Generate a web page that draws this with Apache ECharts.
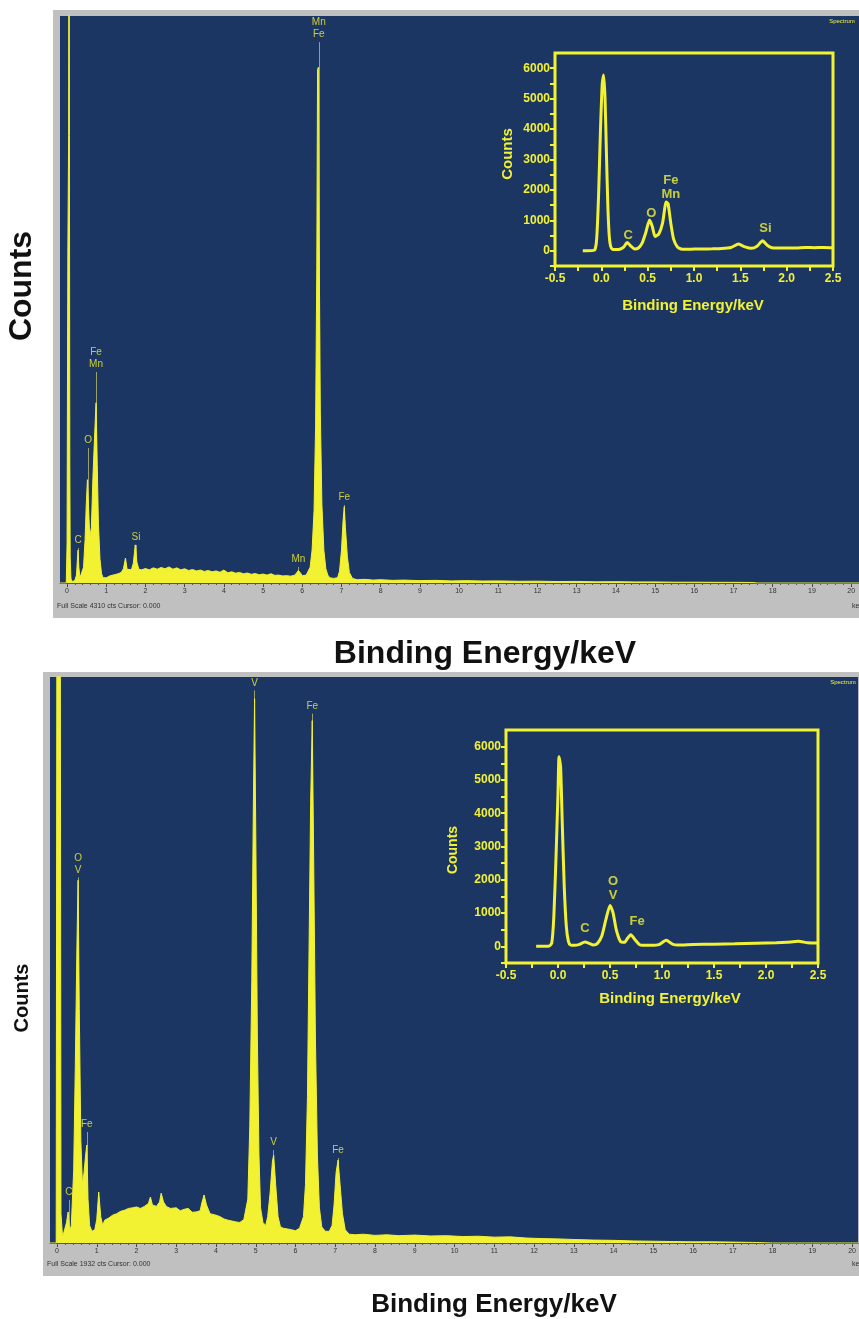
<!DOCTYPE html>
<html><head><meta charset="utf-8">
<script src="https://cdn.jsdelivr.net/npm/echarts@6/dist/echarts.min.js"></script>
<style>html,body{margin:0;padding:0;background:#fff}#c{width:859px;height:1319px}</style>
</head><body><div id="c"></div><script>
// ---------- DATA ----------
// Top main spectrum (keV, counts; full scale 4310 cts)
const TOP_E = [-0.18,-0.02,0.00,0.02,0.04,0.05,0.06,0.07,0.08,0.10,0.14,0.20,0.24,0.26,0.28,0.30,0.33,0.38,0.42,0.46,0.49,0.52,0.55,0.58,0.62,0.66,0.70,0.74,0.77,0.80,0.84,0.88,0.92,1.00,1.10,1.20,1.30,1.38,1.44,1.49,1.53,1.58,1.64,1.69,1.74,1.78,1.83,1.90,2.00,2.10,2.20,2.30,2.40,2.50,2.60,2.70,2.80,2.90,3.00,3.10,3.20,3.30,3.40,3.50,3.60,3.70,3.80,3.90,4.00,4.10,4.20,4.30,4.40,4.50,4.60,4.70,4.80,4.90,5.00,5.10,5.20,5.30,5.40,5.50,5.60,5.70,5.80,5.85,5.90,5.95,6.00,6.05,6.10,6.15,6.20,6.25,6.30,6.34,6.37,6.39,6.41,6.43,6.46,6.50,6.55,6.60,6.65,6.70,6.80,6.90,6.95,7.00,7.04,7.07,7.10,7.15,7.20,7.28,7.40,7.60,7.80,8.00,8.30,8.60,9.00,9.40,9.80,10.2,10.6,11.0,11.5,12.0,12.5,13.0,13.5,14.0,14.5,15.0,15.5,16.0,16.5,17.0,17.5,17.6,20.2];
const TOP_C = [0,0,300,2500,3400,6000,3400,900,200,30,10,20,60,160,250,120,40,30,120,330,600,785,560,350,420,800,1100,1370,900,450,180,70,40,40,55,62,70,80,110,190,105,90,100,150,290,160,105,100,110,100,115,105,118,108,122,105,115,100,108,95,102,92,98,88,95,85,92,82,98,78,85,75,80,70,76,66,72,62,68,60,70,58,60,54,56,52,58,75,95,78,56,55,60,72,120,250,550,1200,2400,3900,3920,2600,1300,600,250,110,60,40,35,40,90,250,470,580,420,200,80,35,25,28,22,25,20,22,18,20,16,18,15,16,13,14,11,12,9,10,8,8,6,6,5,5,4,0,0];
// Top main peak labels (keV, marker-top counts, text)
const TOP_LBL_E = [0.28, 0.54, 0.74, 1.76, 5.9, 6.42, 7.07];
const TOP_LBL_C = [266, 1026, 1604, 289, 122, 4112, 593];
const TOP_LBL_T = ['C', 'O', 'Fe\nMn', 'Si', 'Mn', 'Mn\nFe', 'Fe'];

// Top inset spectrum
const TOP_IN_E = [-0.20,-0.15,-0.10,-0.07,-0.05,-0.03,-0.01,0.01,0.025,0.04,0.055,0.07,0.085,0.10,0.12,0.15,0.20,0.24,0.28,0.32,0.36,0.40,0.44,0.48,0.52,0.55,0.58,0.62,0.66,0.70,0.72,0.75,0.78,0.82,0.86,0.90,1.0,1.1,1.2,1.3,1.4,1.48,1.55,1.62,1.68,1.74,1.79,1.84,1.9,2.0,2.1,2.2,2.3,2.4,2.5];
const TOP_IN_C = [0,0,5,30,400,1800,3900,5500,5780,5000,3200,1500,500,150,50,40,50,120,270,150,60,90,250,600,1010,800,470,550,900,1600,1550,900,380,130,60,50,55,60,65,75,110,220,130,80,150,330,180,100,90,95,90,110,100,110,100];
const TOP_IN_LBL_E = [0.29, 0.54, 0.75, 1.77];
const TOP_IN_LBL_C = [495, 1220, 2080, 725];
const TOP_IN_LBL_T = ['C', 'O', 'Fe\nMn', 'Si'];

// Bottom main spectrum (full scale 1932 cts)
const BOT_E = [-0.176,-0.02,0.00,0.02,0.05,0.08,0.10,0.14,0.18,0.24,0.28,0.32,0.36,0.42,0.46,0.50,0.53,0.56,0.60,0.64,0.68,0.72,0.75,0.78,0.82,0.88,0.95,1.00,1.05,1.10,1.15,1.20,1.30,1.40,1.50,1.60,1.70,1.80,1.90,2.00,2.10,2.20,2.30,2.35,2.40,2.50,2.58,2.62,2.68,2.75,2.85,3.00,3.10,3.20,3.30,3.40,3.50,3.60,3.65,3.70,3.76,3.85,4.00,4.10,4.20,4.30,4.40,4.50,4.60,4.70,4.80,4.85,4.90,4.94,4.97,5.00,5.04,5.08,5.12,5.18,5.25,5.30,5.36,5.42,5.45,5.50,5.56,5.62,5.70,5.80,5.90,6.00,6.10,6.20,6.25,6.30,6.34,6.38,6.42,6.45,6.50,6.55,6.60,6.66,6.75,6.85,6.92,6.97,7.02,7.07,7.12,7.18,7.25,7.35,7.50,7.70,8.00,8.30,8.60,9.00,9.40,9.80,10.2,10.6,11.0,11.4,11.8,12.2,12.6,13.0,13.5,14.0,14.5,15.0,15.5,16.0,16.5,17.0,17.5,18.0,20.15];
const BOT_C = [0,0,2500,3000,3000,2500,100,20,25,70,106,40,60,250,600,1000,1238,800,350,200,240,300,334,150,60,40,45,80,174,90,60,78,85,95,100,108,112,118,120,123,118,125,135,157,130,125,140,170,140,125,118,120,110,115,118,105,106,110,140,164,130,100,95,90,82,78,75,72,70,80,150,400,900,1500,1858,1400,700,300,120,70,60,90,170,280,300,200,90,55,50,48,45,42,50,90,200,500,1000,1500,1783,1400,700,300,120,55,40,40,60,130,240,283,200,100,45,30,28,30,26,28,25,27,24,25,22,23,20,21,17,15,14,12,10,9,7,6,5,4,4,3,2,0,0];
const BOT_LBL_E = [0.3, 0.53, 0.75, 4.97, 5.45, 6.42, 7.07];
const BOT_LBL_C = [147, 1248, 379, 1886, 317, 1807, 290];
const BOT_LBL_T = ['C', 'O\nV', 'Fe', 'V', 'V', 'Fe', 'Fe'];

// Bottom inset spectrum
const BOT_IN_E = [-0.21,-0.09,-0.06,-0.04,-0.02,0.0,0.01,0.025,0.04,0.06,0.08,0.10,0.12,0.16,0.2,0.26,0.3,0.34,0.38,0.42,0.46,0.5,0.53,0.56,0.6,0.64,0.67,0.7,0.74,0.78,0.81,0.9,0.97,1.04,1.1,1.15,1.3,1.5,1.7,1.9,2.1,2.2,2.31,2.4,2.5];
const BOT_IN_C = [0,0,100,900,2600,4600,5700,5400,3800,1800,600,150,40,30,50,130,90,40,90,300,800,1230,1000,500,150,120,250,350,200,60,30,30,50,180,70,40,55,65,75,90,105,120,150,110,100];
const BOT_IN_LBL_E = [0.26, 0.53, 0.76];
const BOT_IN_LBL_C = [540, 1755, 750];
const BOT_IN_LBL_T = ['C', 'O\nV', 'Fe'];

// Tick labels
const MAIN_TICKS = [0,1,2,3,4,5,6,7,8,9,10,11,12,13,14,15,16,17,18,19,20];
const IN_X_LABELS = [-0.5,0,0.5,1,1.5,2,2.5];
const IN_Y_LABELS = [0,1000,2000,3000,4000,5000,6000];

// ---------- STYLE ----------
const YEL = '#f2f232';
const BLUE = '#1c3664';
const GRAY = '#c0c0c0';
const FONT = "'Liberation Sans', Arial, sans-serif";

const pairs = (a, b) => a.map((v, i) => [v, b[i]]);
const lblPts = (e, c, t) => e.map((v, i) => ({ value: [v, c[i]], name: t[i] }));
const mLines = (e, c) => e.map((v, i) => [{ coord: [v, 0] }, { coord: [v, c[i]] }]);

const MINOR_TICKS = [];
for (let k = 0; k <= 100; k++) MINOR_TICKS.push(Math.round(k * 2) / 10);
const IN_X_TICKS = [];
for (let k = -2; k <= 10; k++) IN_X_TICKS.push(k * 0.25);
const IN_Y_TICKS = [];
for (let k = -1; k <= 12; k++) IN_Y_TICKS.push(k * 500);

function mainX(grid, min, max) {
  return [
    { gridIndex: grid, type: 'value', min, max, position: 'bottom',
      axisLine: { show: true, onZero: false, lineStyle: { color: '#555', width: 1 } },
      axisTick: { show: true, customValues: MAIN_TICKS, length: 4, lineStyle: { color: '#444' } },
      axisLabel: { customValues: MAIN_TICKS, fontSize: 7, color: '#333', margin: 5, fontFamily: FONT },
      splitLine: { show: false } },
    { gridIndex: grid, type: 'value', min, max, position: 'bottom',
      axisLine: { show: false, onZero: false },
      axisTick: { show: true, customValues: MINOR_TICKS, length: 2, lineStyle: { color: '#555' } },
      axisLabel: { show: false }, splitLine: { show: false } }
  ];
}
function insetX(grid) {
  return { gridIndex: grid, type: 'value', min: -0.5, max: 2.5, position: 'bottom',
    axisLine: { show: false, onZero: false },
    axisTick: { show: true, customValues: IN_X_TICKS, length: 5, lineStyle: { color: YEL, width: 2 } },
    axisLabel: { customValues: IN_X_LABELS, formatter: v => Number(v).toFixed(1), color: YEL, fontWeight: 'bold', fontSize: 12, margin: 7, fontFamily: FONT },
    splitLine: { show: false } };
}
function insetY(grid) {
  return { gridIndex: grid, type: 'value', min: -500, max: 6500, position: 'left',
    axisLine: { show: false, onZero: false },
    axisTick: { show: true, customValues: IN_Y_TICKS, length: 5, lineStyle: { color: YEL, width: 2 } },
    axisLabel: { customValues: IN_Y_LABELS, formatter: v => String(Math.round(v)), color: YEL, fontWeight: 'bold', fontSize: 12, margin: 5, fontFamily: FONT },
    splitLine: { show: false } };
}
function spectrum(xi, yi, data) {
  return { type: 'line', xAxisIndex: xi, yAxisIndex: yi, data, symbol: 'none', z: 3, clip: true,
    lineStyle: { color: YEL, width: 1 }, areaStyle: { color: YEL, opacity: 1 }, animation: false };
}
function insetLine(xi, yi, data) {
  return { type: 'line', xAxisIndex: xi, yAxisIndex: yi, data, symbol: 'none', z: 3, clip: true, smooth: 0.2,
    lineStyle: { color: YEL, width: 3 }, animation: false };
}
function mainLabels(xi, yi, e, c, t) {
  return { type: 'scatter', xAxisIndex: xi, yAxisIndex: yi, data: lblPts(e, c, t), symbolSize: 1, z: 4,
    itemStyle: { color: 'rgba(0,0,0,0)' }, animation: false, silent: true,
    label: { show: true, position: 'top', distance: 1, formatter: '{b}', color: YEL, fontSize: 10, lineHeight: 12, fontFamily: FONT },
    markLine: { silent: true, z: 1, symbol: ['none', 'none'], animation: false,
      lineStyle: { color: '#9aa06a', width: 1, type: 'solid' }, label: { show: false },
      data: mLines(e, c) } };
}
function insetLabels(xi, yi, e, c, t) {
  return { type: 'scatter', xAxisIndex: xi, yAxisIndex: yi, data: lblPts(e, c, t), symbolSize: 1, z: 4,
    itemStyle: { color: 'rgba(0,0,0,0)' }, animation: false, silent: true,
    label: { show: true, position: 'inside', formatter: '{b}', color: YEL, fontSize: 13, fontWeight: 'bold', lineHeight: 14, fontFamily: FONT } };
}
function txt(x, y, text, size, opts) {
  return Object.assign({ type: 'text', x, y, z: 100,
    style: Object.assign({ text, fontSize: size, fontFamily: FONT, fill: '#111', align: 'center', verticalAlign: 'middle' }, (opts && opts.style) || {}) },
    (opts && opts.el) || {});
}

const chart = echarts.init(document.getElementById('c'), null, { renderer: 'canvas' });
chart.setOption({
  backgroundColor: '#ffffff',
  animation: false,
  grid: [
    { left: 60, top: 16, width: 799, height: 567, show: true, backgroundColor: BLUE, borderWidth: 0 },
    { left: 555, top: 53, width: 278, height: 213, show: true, backgroundColor: 'transparent', borderColor: YEL, borderWidth: 3 },
    { left: 50, top: 677, width: 809, height: 566, show: true, backgroundColor: BLUE, borderWidth: 0 },
    { left: 506, top: 730, width: 312, height: 233, show: true, backgroundColor: 'transparent', borderColor: YEL, borderWidth: 3 }
  ],
  xAxis: [
    ...mainX(0, -0.18, 20.2),
    insetX(1),
    ...mainX(2, -0.176, 20.15),
    insetX(3)
  ],
  yAxis: [
    { gridIndex: 0, type: 'value', min: 0, max: 4310, show: false },
    insetY(1),
    { gridIndex: 2, type: 'value', min: 0, max: 1932, show: false },
    insetY(3)
  ],
  series: [
    spectrum(0, 0, pairs(TOP_E, TOP_C)),
    mainLabels(0, 0, TOP_LBL_E, TOP_LBL_C, TOP_LBL_T),
    insetLine(2, 1, pairs(TOP_IN_E, TOP_IN_C)),
    insetLabels(2, 1, TOP_IN_LBL_E, TOP_IN_LBL_C, TOP_IN_LBL_T),
    spectrum(3, 2, pairs(BOT_E, BOT_C)),
    mainLabels(3, 2, BOT_LBL_E, BOT_LBL_C, BOT_LBL_T),
    insetLine(5, 3, pairs(BOT_IN_E, BOT_IN_C)),
    insetLabels(5, 3, BOT_IN_LBL_E, BOT_IN_LBL_C, BOT_IN_LBL_T)
  ],
  graphic: [
    { type: 'rect', z: -1, shape: { x: 53, y: 10, width: 806, height: 608 }, style: { fill: GRAY } },
    { type: 'rect', z: -1, shape: { x: 43, y: 672, width: 816, height: 604 }, style: { fill: GRAY } },
    txt(22, 286, 'Counts', 32, { style: { fontWeight: 'bold' }, el: { rotation: Math.PI / 2 } }),
    txt(485, 654, 'Binding Energy/keV', 32, { style: { fontWeight: 'bold' } }),
    txt(22, 998, 'Counts', 20, { style: { fontWeight: 'bold' }, el: { rotation: Math.PI / 2 } }),
    txt(494, 1305, 'Binding Energy/keV', 26, { style: { fontWeight: 'bold' } }),
    txt(508, 154, 'Counts', 15, { style: { fontWeight: 'bold', fill: YEL }, el: { rotation: Math.PI / 2 } }),
    txt(693, 306, 'Binding Energy/keV', 15, { style: { fontWeight: 'bold', fill: YEL } }),
    txt(453, 850, 'Counts', 14, { style: { fontWeight: 'bold', fill: YEL }, el: { rotation: Math.PI / 2 } }),
    txt(670, 999, 'Binding Energy/keV', 15, { style: { fontWeight: 'bold', fill: YEL } }),
    txt(57, 606, 'Full Scale 4310 cts Cursor: 0.000', 7, { style: { fill: '#333', align: 'left' } }),
    txt(852, 606, 'keV', 7, { style: { fill: '#333', align: 'left' } }),
    txt(842, 21, 'Spectrum', 6, { style: { fill: YEL } }),
    txt(47, 1264, 'Full Scale 1932 cts Cursor: 0.000', 7, { style: { fill: '#333', align: 'left' } }),
    txt(852, 1264, 'keV', 7, { style: { fill: '#333', align: 'left' } }),
    txt(843, 682, 'Spectrum', 6, { style: { fill: YEL } })
  ]
});
</script></body></html>
